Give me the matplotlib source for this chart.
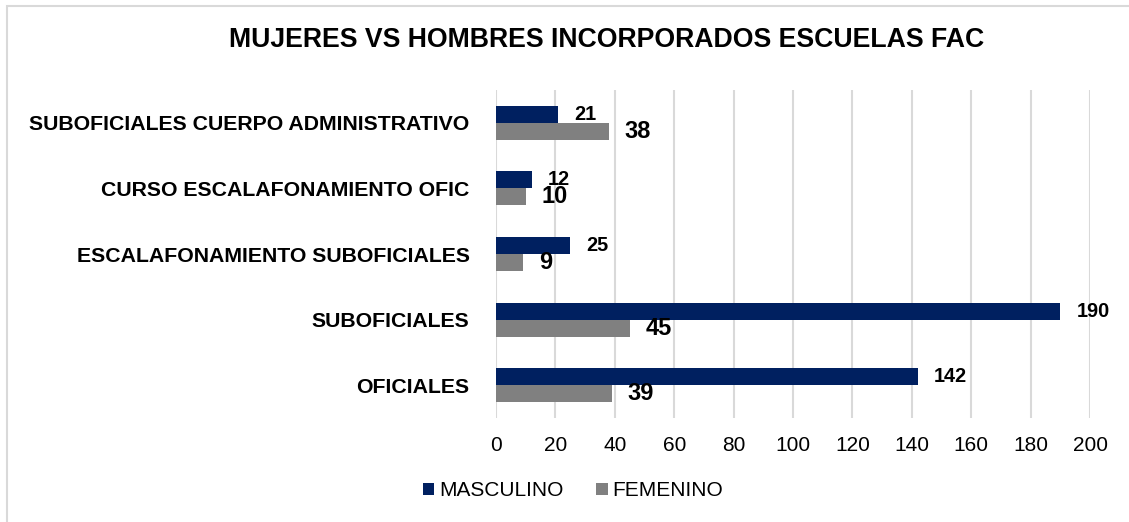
import matplotlib
matplotlib.use("Agg")
import matplotlib.pyplot as plt
from matplotlib.patches import Rectangle
import numpy as np

plt.rcParams['font.family'] = ['Liberation Sans', 'DejaVu Sans']

categories = ["OFICIALES", "SUBOFICIALES", "ESCALAFONAMIENTO SUBOFICIALES",
              "CURSO ESCALAFONAMIENTO OFIC", "SUBOFICIALES CUERPO ADMINISTRATIVO"]
masculino = [142, 190, 25, 12, 21]
femenino = [39, 45, 9, 10, 38]
x_ticks = [0, 20, 40, 60, 80, 100, 120, 140, 160, 180, 200]
title = "MUJERES VS HOMBRES INCORPORADOS ESCUELAS FAC"

W, H = 1129, 522
fig = plt.figure(figsize=(W / 100, H / 100), dpi=100)
ax = fig.add_axes([496 / W, 1 - 418 / H, (1090 - 496) / W, (418 - 90) / H])

navy = "#002060"
gray = "#808080"
h = 0.26
y = np.arange(len(categories))
b1 = ax.barh(y + h / 2, masculino, height=h, color=navy, label="MASCULINO", zorder=3)
b2 = ax.barh(y - h / 2, femenino, height=h, color=gray, label="FEMENINO", zorder=3)

for rect, v in zip(b1, masculino):
    ax.annotate(str(v), (rect.get_width(), rect.get_y() + rect.get_height() / 2),
                xytext=(11.5, 0), textcoords="offset points", va="center", ha="left",
                fontsize=14.3, fontweight="bold", color="black")
for rect, v in zip(b2, femenino):
    ax.annotate(str(v), (rect.get_width(), rect.get_y() + rect.get_height() / 2),
                xytext=(11.5, 0), textcoords="offset points", va="center", ha="left",
                fontsize=17, fontweight="bold", color="black")

ax.set_xlim(0, 200)
ax.set_ylim(-0.5, len(categories) - 0.5)
ax.set_xticks(x_ticks)
ax.set_yticks(y)
ax.set_yticklabels(categories, fontsize=15.3, fontweight="bold")
ax.tick_params(axis="x", labelsize=15, length=0, pad=13)
ax.tick_params(axis="y", length=0, pad=19)
ax.grid(axis="x", color="#D9D9D9", linewidth=1.5, zorder=0)
for s in ax.spines.values():
    s.set_visible(False)

fig.text(606.5 / W, 1 - 40 / H, title, ha="center", va="center",
         fontsize=19.2, fontweight="bold")

fig.legend(handles=[b1, b2], labels=["MASCULINO", "FEMENINO"], loc="center",
           bbox_to_anchor=(573 / W, 1 - 491 / H), ncol=2, frameon=False,
           fontsize=15, handlelength=0.53, handleheight=0.53, handletextpad=0.25,
           columnspacing=1.6, borderaxespad=0, borderpad=0)

fig.patches.append(Rectangle((7 / W, -0.5), 2, (1 - 5.5 / H) + 0.5,
                             transform=fig.transFigure, fill=False,
                             edgecolor="#D9D9D9", linewidth=1.5))

fig.savefig("out.png", dpi=100)
